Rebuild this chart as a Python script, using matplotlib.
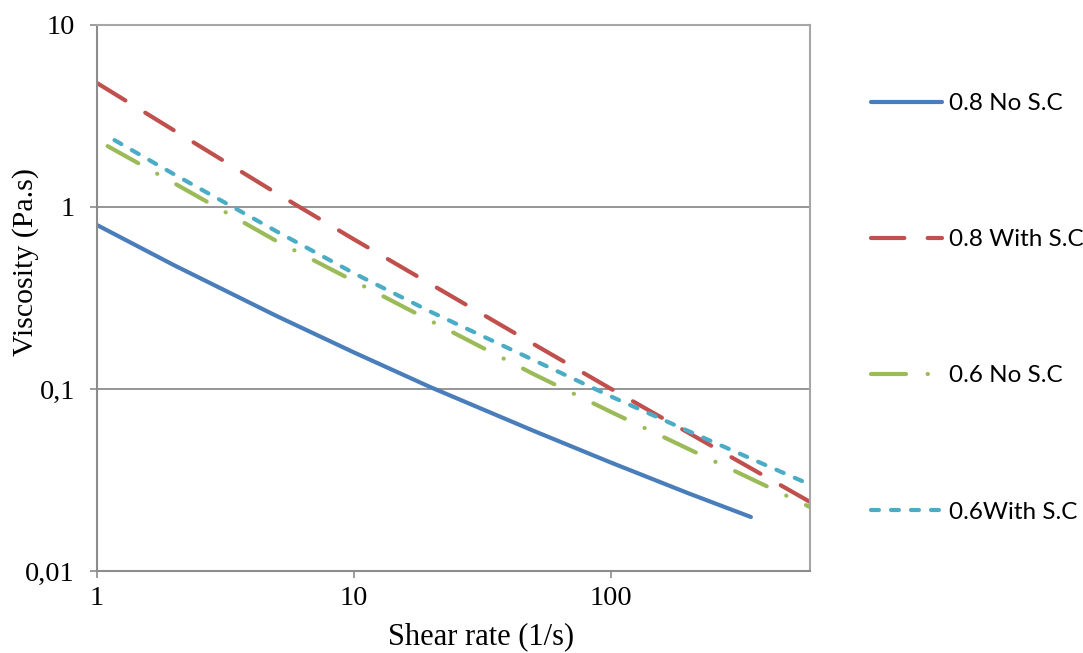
import matplotlib
matplotlib.use("Agg")
import matplotlib.pyplot as plt
import numpy as np

# shear rate (1/s) and viscosity (Pa.s)
rate_08_no = [1, 2, 5, 10, 20, 50, 100, 200, 352]
visc_08_no = [0.796, 0.478, 0.252, 0.159, 0.102, 0.059, 0.0395, 0.0268, 0.0198]

rate_08_with = [1, 2, 5, 10, 20, 50, 100, 200, 400, 600]
visc_08_with = [4.80, 2.63, 1.19, 0.665, 0.376, 0.177, 0.1005, 0.0577, 0.0331, 0.0239]

rate_06_no = [1.1, 2, 5, 10, 20, 50, 100, 200, 400, 600]
visc_06_no = [2.16, 1.35, 0.65, 0.392, 0.236, 0.121, 0.075, 0.047, 0.0295, 0.0224]

rate_06_with = [1.17, 2, 5, 10, 20, 50, 100, 200, 400, 578]
visc_06_with = [2.33, 1.51, 0.735, 0.433, 0.265, 0.1445, 0.0912, 0.0589, 0.0383, 0.0305]

labels = ["0.8 No S.C", "0.8 With S.C", "0.6 No S.C", "0.6With S.C"]
colors = ["#4A7EBB", "#C0504D", "#9BBB59", "#4BACC6"]

y_ticks = [0.01, 0.1, 1, 10]
y_ticklabels = ["0,01", "0,1", "1", "10"]
x_ticks = [1, 10, 100]
x_ticklabels = ["1", "10", "100"]

W, H = 1083, 653
fig = plt.figure(figsize=(W / 100, H / 100), dpi=100)
ax = fig.add_axes([97 / W, 1 - 571 / H, (810 - 97) / W, (571 - 25) / H])

lw = 3.0
series = [
    (rate_08_no, visc_08_no, "-"),
    (rate_08_with, visc_08_with, (0, (8, 5.6))),
    (rate_06_no, visc_06_no, (0, (8.4, 5.2, 0.05, 5.2))),
    (rate_06_with, visc_06_with, (0, (1.9, 2.9))),
]
for (xs, ys, ls), lab, c in zip(series, labels, colors):
    ax.plot(xs, ys, color=c, lw=lw, linestyle=ls, label=lab,
            solid_capstyle="round", dash_capstyle="round")

ax.set_xscale("log")
ax.set_yscale("log")
ax.set_xlim(1, 598)
ax.set_ylim(0.01, 10)

grid_c = "#8C8C8C"
ax.set_yticks(y_ticks)
ax.set_yticklabels(y_ticklabels)
ax.set_xticks(x_ticks)
ax.set_xticklabels(x_ticklabels)
ax.minorticks_off()
ax.yaxis.grid(True, color=grid_c, lw=1.3)
ax.set_axisbelow(True)
for s in ax.spines.values():
    s.set_color("#A6A6A6")
    s.set_linewidth(1.5)
ax.spines["left"].set_color(grid_c)
ax.spines["bottom"].set_color(grid_c)

ax.tick_params(axis="both", which="major", direction="out", length=5,
               width=1.2, color=grid_c, labelsize=20.5)
ax.tick_params(axis="x", pad=6)
ax.tick_params(axis="y", pad=11)
for t in ax.get_xticklabels() + ax.get_yticklabels():
    t.set_fontfamily("Liberation Serif")

ax.set_xlabel("Shear rate (1/s)", fontfamily="Liberation Serif", fontsize=22)
ax.set_ylabel("Viscosity (Pa.s)", fontfamily="Liberation Serif", fontsize=21.5)
ax.xaxis.set_label_coords((481 - 97) / 713, (571 - 637) / 546)
ax.yaxis.set_label_coords((26 - 97) / 713, (571 - 262) / 546)
ax.xaxis.label.set_va("center")
ax.yaxis.label.set_va("center")

leg = fig.legend(loc="upper left", bbox_to_anchor=(871 / W, 1 - 93 / H),
                 frameon=False, prop={"family": "Lato", "size": 17.5},
                 handlelength=2.92, handletextpad=0.3, labelspacing=4.74,
                 borderpad=0, borderaxespad=0)

fig.savefig("out.png", dpi=100)
